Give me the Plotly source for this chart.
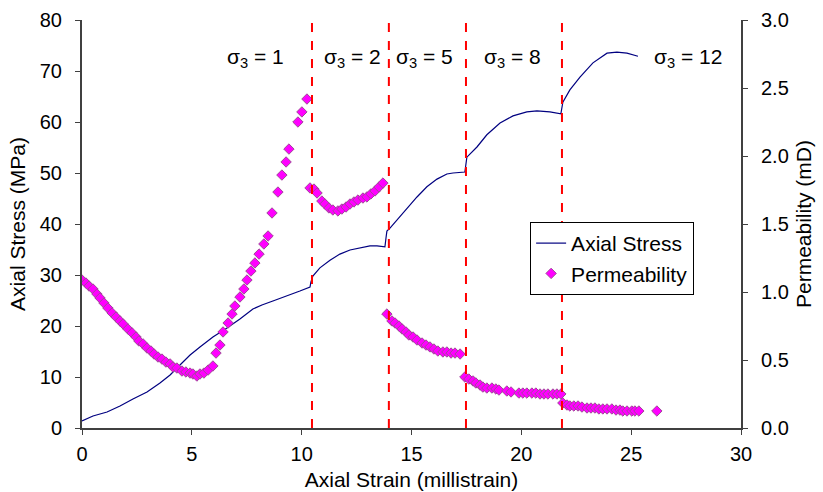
import plotly.graph_objects as go

# Axial stress curve (strain in millistrain, stress in MPa)
stress_strain = [0.00, 0.50, 1.14, 1.73, 2.32, 2.96, 3.55, 4.01, 4.46, 4.92, 5.37, 5.96, 6.60, 7.19, 7.78,
                 8.19, 8.69, 9.33, 9.92, 10.38, 10.42,
                 10.51, 10.83, 11.29, 11.74, 12.20, 12.65, 13.11, 13.43, 13.79, 13.84, 13.88,
                 14.02, 14.34, 14.79, 15.25, 15.70, 16.16, 16.61, 16.89, 17.43, 17.48,
                 17.52, 17.98, 18.43, 19.03, 19.62, 20.25, 20.71, 21.30, 21.80, 21.89,
                 22.21, 22.67, 23.26, 23.90, 24.35, 24.81, 25.31]
stress_mpa = [1.37, 2.35, 3.14, 4.31, 5.69, 7.06, 8.82, 10.39, 12.35, 14.31, 15.88, 17.84, 19.61, 21.37, 23.33,
              24.12, 24.90, 25.88, 26.86, 27.65, 28.6,
              29.8, 31.4, 32.9, 34.1, 34.9, 35.3, 35.7, 35.7, 35.5, 37.3, 38.6,
              39.2, 40.8, 43.1, 45.3, 47.3, 48.8, 49.8, 50.0, 50.2, 51.6,
              53.1, 55.1, 57.5, 59.8, 61.2, 62.0, 62.2, 62.0, 61.6, 63.9,
              66.3, 68.8, 71.6, 73.5, 73.7, 73.5, 72.9]

# Permeability points (strain in millistrain, permeability in mD)
perm_strain = [0.00, 0.18, 0.32, 0.50, 0.68, 0.82, 1.00, 1.18, 1.37, 1.55, 1.73, 1.87, 2.09, 2.28, 2.46,
               2.59, 2.78, 2.96, 3.14, 3.28, 3.46, 3.64, 3.82, 4.01, 4.14, 4.32, 4.55, 4.73, 4.92, 5.05,
               5.23, 5.37, 5.55, 5.74, 5.96, 6.10, 6.28, 6.42, 6.65, 6.83, 6.96, 7.19, 7.37, 7.51, 7.69,
               7.87, 8.06, 8.28, 8.47, 8.65, 8.92, 9.10, 9.29, 9.42, 9.83, 10.01, 10.24,
               10.38, 10.56, 10.70, 10.92, 11.06, 11.24, 11.42, 11.65, 11.83, 12.02, 12.20, 12.38, 12.56,
               12.79, 12.97, 13.15, 13.34, 13.52, 13.70,
               13.88, 14.11, 14.25, 14.43, 14.57, 14.75, 14.88, 15.07, 15.25, 15.48, 15.66, 15.84, 16.02,
               16.20, 16.43, 16.61, 16.80, 16.98, 17.21,
               17.43, 17.61, 17.80, 17.93, 18.12, 18.25, 18.43, 18.66, 18.84, 18.98, 19.34, 19.53, 19.89,
               20.07, 20.25, 20.48, 20.66, 20.85, 21.03, 21.21, 21.44, 21.62, 21.80,
               21.89, 22.08, 22.21, 22.39, 22.58, 22.76, 22.99, 23.17, 23.35, 23.53, 23.71, 23.90, 24.12,
               24.31, 24.49, 24.62, 24.81, 25.03, 25.17, 25.35, 26.17]
perm_md = [1.088, 1.066, 1.044, 1.022, 0.985, 0.956, 0.919, 0.882, 0.846, 0.816, 0.787, 0.765, 0.728, 0.699, 0.669,
           0.640, 0.618, 0.588, 0.566, 0.544, 0.522, 0.507, 0.485, 0.471, 0.449, 0.441, 0.419, 0.412, 0.404, 0.397,
           0.382, 0.397, 0.404, 0.426, 0.456, 0.551, 0.610, 0.706, 0.772, 0.838, 0.897, 0.963, 1.022, 1.088, 1.154,
           1.213, 1.279, 1.353, 1.412, 1.581, 1.735, 1.860, 1.956, 2.051, 2.250, 2.324, 2.419,
           1.765, 1.757, 1.728, 1.669, 1.647, 1.618, 1.603, 1.596, 1.610, 1.625, 1.647, 1.662, 1.676,
           1.691, 1.699, 1.721, 1.743, 1.772, 1.801,
           0.838, 0.787, 0.772, 0.750, 0.728, 0.706, 0.684, 0.669, 0.647, 0.625, 0.610, 0.596, 0.581,
           0.566, 0.559, 0.559, 0.551, 0.551, 0.544,
           0.375, 0.360, 0.346, 0.331, 0.316, 0.301, 0.294, 0.294, 0.287, 0.279, 0.272, 0.265, 0.257,
           0.257, 0.257, 0.257, 0.257, 0.250, 0.250, 0.250, 0.250, 0.250, 0.250,
           0.184, 0.169, 0.162, 0.162, 0.162, 0.154, 0.147, 0.147, 0.147, 0.140, 0.140, 0.140, 0.140,
           0.132, 0.132, 0.125, 0.125, 0.125, 0.125, 0.125, 0.125]

# Confining pressure stage boundaries and labels
stage_boundaries = [10.47, 13.97, 17.48, 21.85]
stage_label_x = [7.9, 12.3, 15.6, 19.6, 27.6]
stage_labels = ["σ<sub>3</sub> = 1", "σ<sub>3</sub> = 2", "σ<sub>3</sub> = 5", "σ<sub>3</sub> = 8", "σ<sub>3</sub> = 12"]
stage_label_y = 72.5

FONT = "Arial, Liberation Sans, sans-serif"

fig = go.Figure()
fig.add_trace(go.Scatter(x=stress_strain, y=stress_mpa, mode="lines", name="Axial Stress",
                         line=dict(color="#000080", width=1.2), yaxis="y"))
fig.add_trace(go.Scatter(x=perm_strain, y=perm_md, mode="markers", name="Permeability",
                         marker=dict(symbol="diamond", size=8, color="#FF00FF",
                                     line=dict(color="#A04898", width=1)), yaxis="y2"))

for b in stage_boundaries:
    fig.add_shape(type="line", x0=b, x1=b, y0=0, y1=1, xref="x", yref="paper",
                  line=dict(color="#FF0000", width=2, dash="dash"), layer="above")

for lx, lt in zip(stage_label_x, stage_labels):
    fig.add_annotation(x=lx, y=stage_label_y, text=lt, showarrow=False, xref="x", yref="y",
                       font=dict(size=21, family=FONT, color="black"))

axis_common = dict(showgrid=False, zeroline=False, showline=True, linecolor="#404040", linewidth=2,
                   ticks="outside", ticklen=5, tickcolor="#404040", tickwidth=1, automargin=False,
                   tickfont=dict(size=20, family=FONT, color="black"))

fig.update_layout(
    width=823, height=492,
    margin=dict(l=82, r=82, t=20, b=64),
    paper_bgcolor="white", plot_bgcolor="white",
    font=dict(family=FONT, color="black"),
    xaxis=dict(range=[0, 30], dtick=5, ticklabelstandoff=2,
               title=dict(text="Axial Strain (millistrain)", font=dict(size=21), standoff=8),
               **axis_common),
    yaxis=dict(range=[0, 80], dtick=10, ticklabelstandoff=9,
               title=dict(text="Axial Stress (MPa)", font=dict(size=21), standoff=8),
               **axis_common),
    yaxis2=dict(range=[0, 3.0], dtick=0.5, tickformat=".1f", overlaying="y", side="right",
                ticklabelstandoff=9,
                title=dict(text="Permeability (mD)", font=dict(size=21), standoff=8), **axis_common),
    legend=dict(x=0.68, y=0.505, xanchor="left", yanchor="top", bordercolor="black", borderwidth=1,
                bgcolor="white", font=dict(size=21, family=FONT), tracegroupgap=0),
    showlegend=True,
)

fig.write_html("out.html")
